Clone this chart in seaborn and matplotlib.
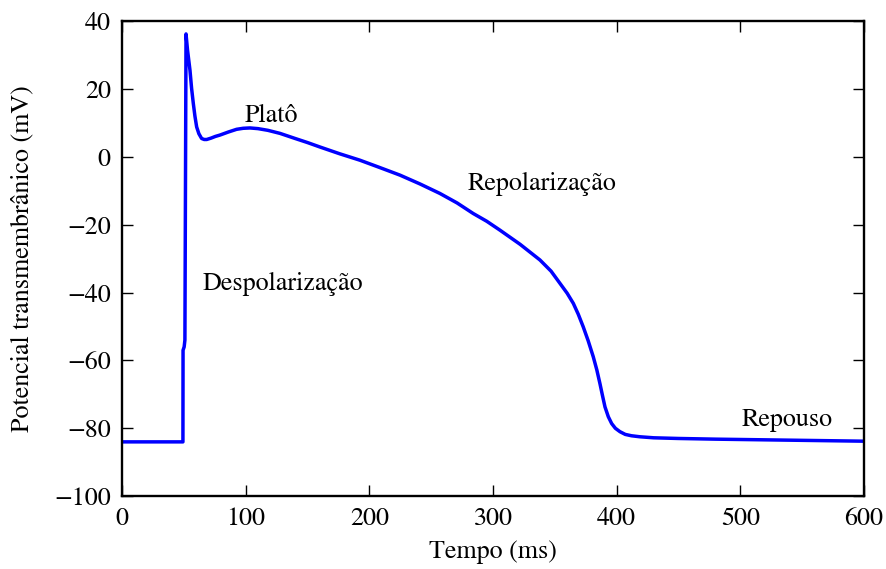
import matplotlib
matplotlib.use("Agg")
import matplotlib.pyplot as plt
import seaborn as sns
import pandas as pd

# Data
tempo = [0, 49.3, 49.4, 50.3, 50.9, 51.8, 53.0, 55.0, 56.3, 57.7, 59.0, 60.4, 62.2,
         64.4, 66.5, 68.5, 72, 75.5, 79.2, 86, 92.7, 98, 103.5, 110, 118, 127.8,
         140, 150, 160, 176, 192.4, 208, 224.8, 241, 257.1, 271, 284, 295, 305.6,
         322, 338, 347, 354.2, 360, 365, 369, 373, 377, 381.1, 384, 386.5, 388.6,
         390.6, 393.3, 396, 399, 402.7, 407, 412, 418.9, 430, 450, 480, 520, 560, 600]
potencial = [-84, -84, -57, -56, -54, 36.2, 31.5, 25.5, 20.2, 15.7, 12.0, 8.8, 6.8,
             5.4, 5.1, 5.1, 5.5, 6.0, 6.4, 7.3, 8.1, 8.4, 8.5, 8.3, 7.8, 6.9,
             5.4, 4.2, 2.9, 0.9, -1.0, -3.1, -5.4, -8.0, -10.8, -13.6, -16.7, -19.0, -21.6,
             -25.8, -30.4, -33.7, -37.3, -40.2, -43.2, -46.4, -50.1, -54.2, -58.9, -62.8, -66.8, -70.4,
             -73.7, -76.6, -78.6, -80.0, -81.0, -81.8, -82.2, -82.5, -82.8, -83.0, -83.2, -83.4, -83.6, -83.8]

rotulos = ["Platô", "Repolarização", "Despolarização", "Repouso"]
rot_x = [121, 340, 130, 538]
rot_y = [12, -8, -37.5, -77.5]

sns.set_style("ticks")
plt.rcParams["font.family"] = ["STIXGeneral", "DejaVu Serif"]
plt.rcParams["mathtext.fontset"] = "stix"
plt.rcParams["axes.unicode_minus"] = True

df = pd.DataFrame({"Tempo": tempo, "V": potencial})

fig, ax = plt.subplots(figsize=(8.87, 5.69), dpi=100)
fig.subplots_adjust(left=0.1375, right=0.974, top=0.963, bottom=0.128)

sns.lineplot(data=df, x="Tempo", y="V", ax=ax, color="#0000ff", linewidth=2.5,
             estimator=None, sort=False, solid_joinstyle="round")

fs = 18.7
ax.set_xlim(0, 600)
ax.set_ylim(-100, 40)
ax.set_xticks(range(0, 601, 100))
ax.set_yticks(range(-100, 41, 20))
ax.set_xlabel("Tempo (ms)", fontsize=fs, color="black", labelpad=6)
ax.set_ylabel("Potencial transmembrânico (mV)", fontsize=fs, color="black", labelpad=14)
ax.tick_params(direction="in", length=8, width=1, top=True, right=True,
               labelsize=fs, colors="black", pad=8)
for s in ax.spines.values():
    s.set_visible(True)
    s.set_linewidth(1.7)
    s.set_color("black")

for txt, x, y in zip(rotulos, rot_x, rot_y):
    ax.text(x, y, txt, fontsize=fs, ha="center", va="center", color="black")

fig.savefig("out.png", dpi=100)
